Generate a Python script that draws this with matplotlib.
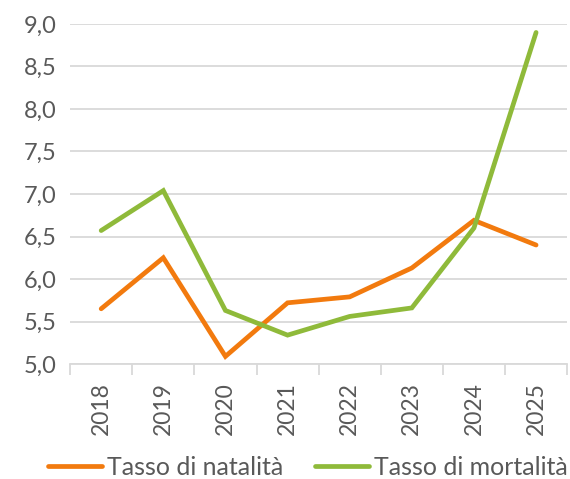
import matplotlib
matplotlib.use("Agg")
import matplotlib.pyplot as plt

years = ["2018", "2019", "2020", "2021", "2022", "2023", "2024", "2025"]
natalita = [5.65, 6.25, 5.09, 5.72, 5.79, 6.13, 6.69, 6.40]
mortalita = [6.57, 7.04, 5.63, 5.34, 5.56, 5.66, 6.60, 8.90]
yticks = [5.0, 5.5, 6.0, 6.5, 7.0, 7.5, 8.0, 8.5, 9.0]

plt.rcParams["font.family"] = ["Lato", "DejaVu Sans"]
text_color = "#595959"
grid_color = "#d9d9d9"

fig = plt.figure(figsize=(5.7, 4.79), dpi=100)
ax = fig.add_axes([0.123, 0.24, 0.872, 0.71])

x = list(range(len(years)))
ax.plot(x, natalita, color="#F27A0E", lw=3.4, solid_capstyle="round",
        solid_joinstyle="miter", label="Tasso di natalità", zorder=3)
ax.plot(x, mortalita, color="#8FBA3A", lw=3.4, solid_capstyle="round",
        solid_joinstyle="miter", label="Tasso di mortalità", zorder=3)

ax.set_xlim(-0.5, len(years) - 0.5)
ax.set_ylim(5.0, 9.0)
ax.set_yticks(yticks)
ax.set_yticklabels([f"{v:.1f}".replace(".", ",") for v in yticks],
                   fontsize=17, color=text_color)
ax.yaxis.grid(True, color=grid_color, lw=1.3, zorder=0)
ax.tick_params(axis="y", length=0, pad=10)

ax.set_xticks(x)
ax.set_xticklabels(years, rotation=90, fontsize=16.5, color=text_color)
ax.set_xticks([i - 0.5 for i in range(len(years) + 1)], minor=True)
ax.tick_params(axis="x", which="major", length=0, pad=13)
ax.tick_params(axis="x", which="minor", length=8, color=grid_color, width=1.3)

for side in ["left", "right", "top"]:
    ax.spines[side].set_visible(False)
ax.spines["bottom"].set_color(grid_color)
ax.spines["bottom"].set_linewidth(1.3)

fig.legend(loc="center", bbox_to_anchor=(0.54, 0.024), ncol=2, frameon=False,
           fontsize=18, handlelength=2.16, handletextpad=0.22, columnspacing=1.24,
           labelcolor=text_color)

fig.savefig("out.png", dpi=100)
